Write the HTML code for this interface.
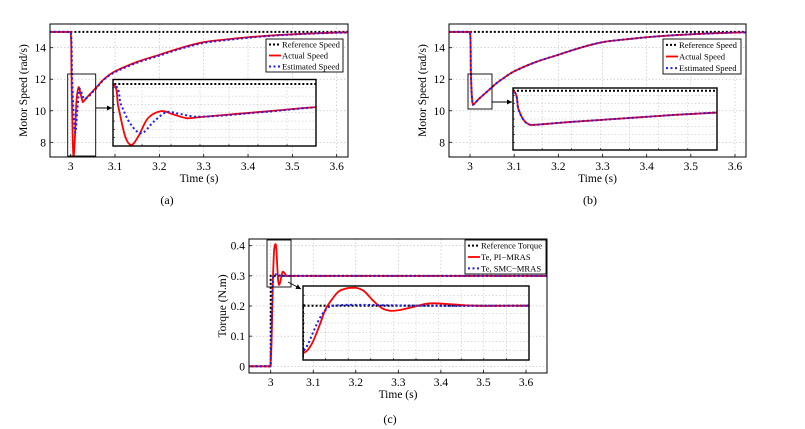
<!DOCTYPE html>
<html><head><meta charset="utf-8"><style>
body{margin:0;background:#fff}
svg{display:block;font-family:"Liberation Serif",serif}
</style></head><body>
<svg id="fig" width="805" height="429" viewBox="0 0 805 429" xmlns="http://www.w3.org/2000/svg"></svg>
<script>
// ---- data ----
const refSpeedT = [2.9, 3.7];
const refSpeedV = [15, 15];
const aActT = [2.9,3.0,3.002,3.0045,3.0068,3.0095,3.013,3.018,3.022,3.0274,3.032,3.04,3.05,3.06,3.075,3.1,3.15,3.2,3.25,3.3,3.35,3.4,3.45,3.5,3.55,3.6,3.7];
const aActV = [15,15,12,8.2,7.1,8.3,10.6,11.5,11.1,10.55,10.7,10.95,11.25,11.55,12.0,12.5,13.1,13.55,14.0,14.35,14.52,14.66,14.77,14.85,14.91,14.96,15];
const aEstT = [2.9,3.0,3.003,3.0065,3.0105,3.015,3.02,3.025,3.031,3.04,3.05,3.06,3.075,3.1,3.15,3.2,3.25,3.3,3.35,3.4,3.45,3.5,3.55,3.6,3.7];
const aEstV = [15,15,12.3,9.8,8.6,10.1,11.4,11.1,10.75,10.9,11.2,11.5,11.98,12.45,13.05,13.5,13.95,14.3,14.48,14.63,14.75,14.84,14.9,14.95,15];
const bT = [2.9,3.0,3.002,3.004,3.0065,3.01,3.02,3.03,3.04,3.05,3.06,3.075,3.1,3.15,3.2,3.25,3.3,3.35,3.4,3.45,3.5,3.55,3.6,3.7];
const bV = [15,15,12.5,11,10.38,10.45,10.75,11.0,11.25,11.5,11.75,12.05,12.5,13.1,13.55,14.0,14.35,14.52,14.66,14.77,14.85,14.91,14.96,15];
const refTqT = [2.9,3.0,3.0,3.7];
const refTqV = [0,0,0.3,0.3];
const piT = [2.9,3.0,3.0,3.001,3.002,3.003,3.004,3.005,3.0065,3.008,3.01,3.0117,3.0135,3.0155,3.0175,3.0195,3.0215,3.024,3.027,3.029,3.032,3.036,3.04,3.05,3.7];
const piV = [0,0,0.02,0.04,0.08,0.14,0.21,0.28,0.34,0.385,0.403,0.405,0.385,0.33,0.285,0.27,0.275,0.29,0.31,0.314,0.31,0.302,0.299,0.3,0.3];
const smcT = [2.9,3.0,3.0,3.001,3.002,3.003,3.004,3.005,3.006,3.008,3.012,3.02,3.03,3.7];
const smcV = [0,0,0.03,0.07,0.13,0.19,0.24,0.275,0.295,0.303,0.305,0.302,0.3,0.3];
const xTicks = [3,3.1,3.2,3.3,3.4,3.5,3.6];
const xTickLabels = ["3","3.1","3.2","3.3","3.4","3.5","3.6"];
const speedTicks = [8,10,12,14];
const speedTickLabels = ["8","10","12","14"];
const tqTicks = [0,0.1,0.2,0.3,0.4];
const tqTickLabels = ["0","0.1","0.2","0.3","0.4"];

const NS="http://www.w3.org/2000/svg";
const svg=document.getElementById('fig');
function mk(tag,attrs,parent){const e=document.createElementNS(NS,tag);for(const k in attrs)e.setAttribute(k,attrs[k]);(parent||svg).appendChild(e);return e;}
function lin(d0,d1,r0,r1){return v=>r0+(v-d0)*(r1-r0)/(d1-d0);}
let clipId=0;
function clip(x0,y0,x1,y1){const id='c'+(clipId++);const cp=mk('clipPath',{id:id});mk('rect',{x:x0,y:y0,width:x1-x0,height:y1-y0},cp);return id;}
const STY={
 ref:{stroke:'#000','stroke-width':2,'stroke-dasharray':'2 2',fill:'none'},
 red:{stroke:'#f00','stroke-width':1.8,fill:'none'},
 blue:{stroke:'#1a1aff','stroke-width':2,'stroke-dasharray':'2 2.5',fill:'none'}
};
function clampv(v,a,b){const lo=Math.min(a,b),hi=Math.max(a,b);return Math.min(Math.max(v,lo),hi);}
function smoothPath(pts){
  let d='M'+pts[0][0].toFixed(2)+','+pts[0][1].toFixed(2);
  for(let i=0;i<pts.length-1;i++){
    const p0=pts[Math.max(0,i-1)],p1=pts[i],p2=pts[i+1],p3=pts[Math.min(pts.length-1,i+2)];
    const c1=[p1[0]+(p2[0]-p0[0])/6,p1[1]+(p2[1]-p0[1])/6];
    const c2=[p2[0]-(p3[0]-p1[0])/6,p2[1]-(p3[1]-p1[1])/6];
    c1[0]=clampv(c1[0],p1[0],p2[0]);c2[0]=clampv(c2[0],p1[0],p2[0]);
    c1[1]=clampv(c1[1],p1[1],p2[1]);c2[1]=clampv(c2[1],p1[1],p2[1]);
    d+='C'+c1.map(v=>v.toFixed(2)).join(',')+' '+c2.map(v=>v.toFixed(2)).join(',')+' '+p2[0].toFixed(2)+','+p2[1].toFixed(2);
  }
  return d;
}
function series(g,ts,vs,sx,sy,sty,name,smooth){
  const pts=ts.map((t,i)=>[sx(t),sy(vs[i])]);
  const d=smooth?smoothPath(pts):pts.map((p,i)=>(i?'L':'M')+p[0].toFixed(2)+','+p[1].toFixed(2)).join('');
  const p=mk('path',Object.assign({d:d},sty),g);
  
  
}
function panel(o){
  const g=mk('g',{});
  
  
  const [x0,y0,x1,y1]=o.box;
  mk('rect',{x:x0,y:y0,width:x1-x0,height:y1-y0,fill:'#fff'},g);
  o.xt.forEach((t,i)=>{const x=o.sx(t);
    mk('line',{x1:x,x2:x,y1:y0,y2:y1,stroke:'#bbb','stroke-width':0.6,'stroke-dasharray':'1.5 2'},g);
    mk('line',{x1:x,x2:x,y1:y1,y2:y1-3,stroke:'#000','stroke-width':0.8},g);
    const tx=mk('text',{x:x,y:y1+13,'font-size':11.5,'text-anchor':'middle'},g);tx.textContent=o.xl[i];
    
    
  });
  o.yt.forEach((v,i)=>{const y=o.sy(v);
    mk('line',{x1:x0,x2:x1,y1:y,y2:y,stroke:'#bbb','stroke-width':0.6,'stroke-dasharray':'1.5 2'},g);
    mk('line',{x1:x0,x2:x0+3,y1:y,y2:y,stroke:'#000','stroke-width':0.8},g);
    const tx=mk('text',{x:x0-4,y:y+4,'font-size':11.5,'text-anchor':'end'},g);tx.textContent=o.yl[i];
    
    
  });
  const cg=mk('g',{'clip-path':'url(#'+clip(x0,y0,x1,y1)+')'},g);
  o.series.forEach(s=>series(cg,s[0],s[1],o.sx,o.sy,STY[s[2]],s[3],s[2]!=='ref'));
  mk('rect',{x:x0,y:y0,width:x1-x0,height:y1-y0,fill:'none',stroke:'#000','stroke-width':1},g);
  const xt=mk('text',{x:(x0+x1)/2,y:y1+25,'font-size':11.5,'text-anchor':'middle'},g);xt.textContent='Time (s)';
  
  
  const yc=(y0+y1)/2;
  const yt=mk('text',{x:x0-23,y:yc,'font-size':11.5,'text-anchor':'middle',transform:'rotate(-90 '+(x0-23)+' '+yc+')'},g);yt.textContent=o.ytitle;
  
  
  const [rx0,ry0,rx1,ry1]=o.zr;
  const zr=mk('rect',{x:rx0,y:ry0,width:rx1-rx0,height:ry1-ry0,fill:'none',stroke:'#000','stroke-width':0.9},g);
  
  
  const [ax0,ay0,ax1,ay1]=o.arrow;
  mk('line',{x1:ax0,y1:ay0,x2:ax1,y2:ay1,stroke:'#000','stroke-width':0.9},g);
  const ang=Math.atan2(ay1-ay0,ax1-ax0);
  const hx=ax1,hy=ay1,L=5,W=2.5;
  const p1=[hx-L*Math.cos(ang)+W*Math.sin(ang),hy-L*Math.sin(ang)-W*Math.cos(ang)];
  const p2=[hx-L*Math.cos(ang)-W*Math.sin(ang),hy-L*Math.sin(ang)+W*Math.cos(ang)];
  mk('polygon',{points:hx+','+hy+' '+p1.join(',')+' '+p2.join(','),fill:'#000'},g);
  const [ix0,iy0,ix1,iy1]=o.ibox;
  const ig=mk('g',{},g);
  
  
  mk('rect',{x:ix0,y:iy0,width:ix1-ix0,height:iy1-iy0,fill:'#fff'},ig);
  for(let i=1;i<o.inx;i++){const x=ix0+(ix1-ix0)*i/o.inx;
    mk('line',{x1:x,x2:x,y1:iy0,y2:iy1,stroke:'#bbb','stroke-width':0.5,'stroke-dasharray':'1.5 2'},ig);
    mk('line',{x1:x,x2:x,y1:iy1,y2:iy1-2,stroke:'#000','stroke-width':0.6},ig);}
  for(let i=1;i<o.iny;i++){const y=iy0+(iy1-iy0)*i/o.iny;
    mk('line',{x1:ix0,x2:ix1,y1:y,y2:y,stroke:'#bbb','stroke-width':0.5,'stroke-dasharray':'1.5 2'},ig);
    mk('line',{x1:ix0,x2:ix0+2,y1:y,y2:y,stroke:'#000','stroke-width':0.6},ig);}
  const icg=mk('g',{'clip-path':'url(#'+clip(ix0,iy0,ix1,iy1)+')'},ig);
  o.series.forEach(s=>series(icg,s[0],s[1],o.isx,o.isy,STY[s[2]],'inset-'+s[3],s[2]!=='ref'));
  mk('rect',{x:ix0,y:iy0,width:ix1-ix0,height:iy1-iy0,fill:'none',stroke:'#000','stroke-width':1.4},ig);
  const [lx0,ly0,lx1,ly1]=o.lbox;
  const lg=mk('g',{},g);
  
  
  mk('rect',{x:lx0,y:ly0,width:lx1-lx0,height:ly1-ly0,fill:'#fff',stroke:'#000','stroke-width':0.9},lg);
  const rh=(ly1-ly0)/3;
  o.series.forEach((s,i)=>{const y=ly0+rh*(i+0.5);
    mk('line',Object.assign({x1:lx0+3,x2:lx0+15,y1:y,y2:y},STY[s[2]]),lg);
    const t=mk('text',{x:lx0+16,y:y+3,'font-size':8.6},lg);t.textContent=o.lt[i];
    
    
  });
  const cap=mk('text',{x:o.cap[0],y:o.cap[1],'font-size':12,'text-anchor':'middle'},svg);cap.textContent=o.cap[2];
  
  
}
panel({name:'a',box:[50,24,348,157],sx:lin(3,3.6,70.7,336.7),sy:lin(8,14,142.3,47.7),
  xt:xTicks,xl:xTickLabels,yt:speedTicks,yl:speedTickLabels,ytitle:'Motor Speed (rad/s)',
  series:[[refSpeedT,refSpeedV,'ref','reference-speed-line'],[aActT,aActV,'red','actual-speed-line'],[aEstT,aEstV,'blue','estimated-speed-line']],
  zr:[67.7,74,95.7,156],arrow:[95.7,108,112,108],
  ibox:[113,79.5,316,146],isx:lin(3,3.075,113,316),isy:lin(7,15,145.7,84),inx:7,iny:8,
  lbox:[266,39,343,72],lt:['Reference Speed','Actual Speed','Estimated Speed'],cap:[167,204,'(a)']});
panel({name:'b',box:[449,24,746,157],sx:lin(3,3.6,470,735),sy:lin(8,14,142.3,47.7),
  xt:xTicks,xl:xTickLabels,yt:speedTicks,yl:speedTickLabels,ytitle:'Motor Speed (rad/s)',
  series:[[refSpeedT,refSpeedV,'ref','reference-speed-line'],[bT,bV,'red','actual-speed-line'],[bT,bV,'blue','estimated-speed-line']],
  zr:[468,74,492,109],arrow:[492,102,512,102],
  ibox:[513,88,717,150],isx:lin(3,3.075,513,717),isy:lin(7,15,150,90.7),inx:7,iny:8,
  lbox:[663,39,741,74],lt:['Reference Speed','Actual Speed','Estimated Speed'],cap:[590,204,'(b)']});
panel({name:'c',box:[249,239,547,373],sx:lin(3,3.6,270.7,526),sy:lin(0,0.4,366.3,245.7),
  xt:xTicks,xl:xTickLabels,yt:tqTicks,yl:tqTickLabels,ytitle:'Torque (N.m)',
  series:[[refTqT,refTqV,'ref','reference-torque-line'],[piT,piV,'red','te-pi-mras-line'],[smcT,smcV,'blue','te-smc-mras-line']],
  zr:[267,240,291,287],arrow:[288,282,301,289],
  ibox:[303,286,529,360],isx:lin(3,3.05,303,529),isy:lin(0.3,0.405,305.7,287.7),inx:10,iny:8,
  lbox:[465,240,546,274],lt:['Reference Torque','Te, PI\u2212MRAS','Te, SMC\u2212MRAS'],cap:[390,423,'(c)']});
</script>
</body></html>
